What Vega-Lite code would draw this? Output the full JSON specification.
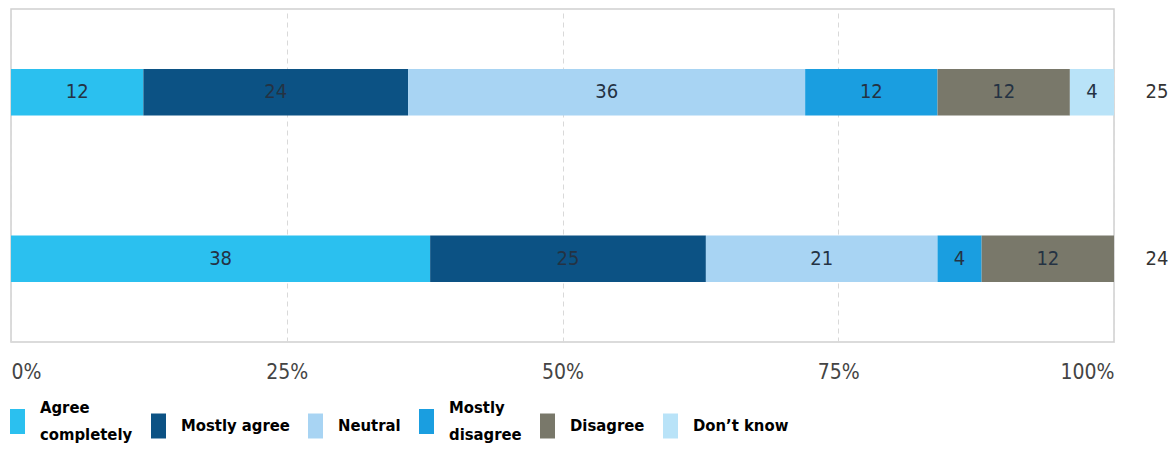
{
  "$schema": "https://vega.github.io/schema/vega-lite/v6.json",
  "width": 1103,
  "height": 333,
  "padding": {"left": 10, "top": 9, "right": 0, "bottom": 0},
  "background": "white",
  "config": {
    "view": {"stroke": "#d0d0d0", "strokeWidth": 1.5},
    "font": "DejaVu Sans Condensed, Liberation Sans, sans-serif"
  },
  "data": {
    "values": [
      {"n": "25", "cat": "Agree completely", "k": 1, "pct": 12},
      {"n": "25", "cat": "Mostly agree", "k": 2, "pct": 24},
      {"n": "25", "cat": "Neutral", "k": 3, "pct": 36},
      {"n": "25", "cat": "Mostly disagree", "k": 4, "pct": 12},
      {"n": "25", "cat": "Disagree", "k": 5, "pct": 12},
      {"n": "25", "cat": "Don’t know", "k": 6, "pct": 4},
      {"n": "24", "cat": "Agree completely", "k": 1, "pct": 38},
      {"n": "24", "cat": "Mostly agree", "k": 2, "pct": 25},
      {"n": "24", "cat": "Neutral", "k": 3, "pct": 21},
      {"n": "24", "cat": "Mostly disagree", "k": 4, "pct": 4},
      {"n": "24", "cat": "Disagree", "k": 5, "pct": 12}
    ]
  },
  "encoding": {
    "y": {
      "field": "n",
      "type": "nominal",
      "sort": ["25", "24"],
      "scale": {"paddingInner": 0.72, "paddingOuter": 0.36},
      "axis": {
        "orient": "right",
        "title": null,
        "ticks": false,
        "domain": false,
        "labelPadding": 31,
        "labelFontSize": 20,
        "labelColor": "#333333",
        "labelFont": "DejaVu Sans Condensed, Liberation Sans, sans-serif"
      }
    }
  },
  "layer": [
    {
      "mark": {"type": "bar"},
      "encoding": {
        "x": {
          "field": "pct",
          "type": "quantitative",
          "stack": "zero",
          "scale": {"domain": [0, 100], "nice": false},
          "axis": {
            "title": null,
            "values": [0, 25, 50, 75, 100],
            "labelExpr": "datum.value + '%'",
            "labelFlush": true,
            "labelFontSize": 21,
            "labelColor": "#444444",
            "labelFont": "DejaVu Sans Condensed, Liberation Sans, sans-serif",
            "labelPadding": 19,
            "ticks": false,
            "domain": false,
            "grid": true,
            "gridColor": "#d9d9d9",
            "gridDash": [5, 4],
            "gridWidth": 1
          }
        },
        "color": {
          "field": "cat",
          "type": "nominal",
          "scale": {
            "domain": ["Agree completely", "Mostly agree", "Neutral", "Mostly disagree", "Disagree", "Don’t know"],
            "range": ["#2bc0ef", "#0c5284", "#a8d4f3", "#1a9ee0", "#79786a", "#b9e3f8"]
          },
          "legend": {
            "orient": "none",
            "legendX": -1,
            "legendY": 400,
            "direction": "horizontal",
            "columns": 6,
            "title": null,
            "symbolType": "M-1,-1H0.2V1H-1Z",
            "symbolSize": 625,
            "symbolStrokeWidth": 0,
            "symbolOpacity": 1,
            "labelFont": "DejaVu Sans Condensed, Liberation Sans, sans-serif",
            "labelFontWeight": "bold",
            "labelFontSize": 16.5,
            "labelColor": "#000000",
            "labelOffset": 5,
            "labelLimit": 300,
            "columnPadding": 18,
            "labelExpr": "datum.label == 'Agree completely' ? ['Agree', 'completely'] : datum.label == 'Mostly disagree' ? ['Mostly', 'disagree'] : datum.label",
            "encode": {
              "labels": {
                "update": {
                  "lineHeight": {"value": 27},
                  "dy": {"signal": "(datum.label == 'Agree completely' || datum.label == 'Mostly disagree') ? -14 : 0"}
                }
              }
            }
          }
        },
        "order": {"field": "k", "type": "quantitative"}
      }
    },
    {
      "mark": {
        "type": "text",
        "fontSize": 20,
        "font": "DejaVu Sans Condensed, Liberation Sans, sans-serif",
        "color": "#243243",
        "baseline": "middle",
        "align": "center",
        "dx": {"expr": "-datum.pct * width / 200"}
      },
      "encoding": {
        "x": {"field": "pct", "type": "quantitative", "stack": "zero"},
        "detail": {"field": "cat"},
        "order": {"field": "k", "type": "quantitative"},
        "text": {"field": "pct", "type": "quantitative"}
      }
    }
  ]
}
